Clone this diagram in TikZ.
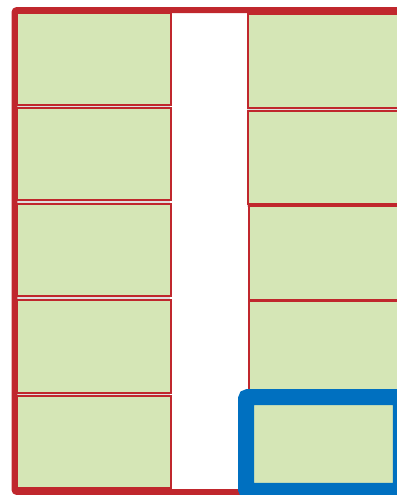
\documentclass[tikz,border=0pt]{standalone}
\usepackage{xcolor}
\usepackage{tikz}
\usetikzlibrary{positioning,shadows}
\definecolor{framered}{RGB}{192,39,45}
\definecolor{cellgreen}{RGB}{213,230,182}
\definecolor{pickblue}{RGB}{0,112,192}
\tikzset{
  lcell/.style={draw=framered, line width=0.04cm, fill=cellgreen, minimum width=3.08cm, minimum height=1.86cm, inner sep=0pt, outer sep=0pt, drop shadow={shadow xshift=-0.6pt, shadow yshift=-1.2pt, opacity=0.25}},
  rcell/.style={lcell, minimum width=3.08cm, minimum height=1.88cm},
  pickbox/.style={draw=pickblue, line width=0.32cm, rounded corners=1.2pt, fill=cellgreen, minimum width=3.1cm, minimum height=1.88cm, inner sep=0pt, outer sep=0pt},
  outerframe/.style={draw=framered, line width=0.12cm, rounded corners=1.5pt}
}
\begin{document}
\begin{tikzpicture}[x=0.02cm,y=-0.02cm]
\clip (0,0) rectangle (397,495);
\node[lcell] (lcell1) at (94,59) {};
\node[lcell] (lcell2) at (94,154) {};
\node[lcell] (lcell3) at (94,250) {};
\node[lcell] (lcell4) at (94,346.5) {};
\node[lcell] (lcell5) at (94,442) {};
\node[rcell] (rcell1) at (325,61) {};
\node[rcell] (rcell2) at (325,157.5) {};
\node[rcell] (rcell3) at (326,253) {};
\node[rcell] (rcell4) at (326,348) {};
\draw[outerframe] (14.5,10) rectangle (430,492);
\node[pickbox] (pick) at (323.5,444) {};
\end{tikzpicture}
\end{document}
